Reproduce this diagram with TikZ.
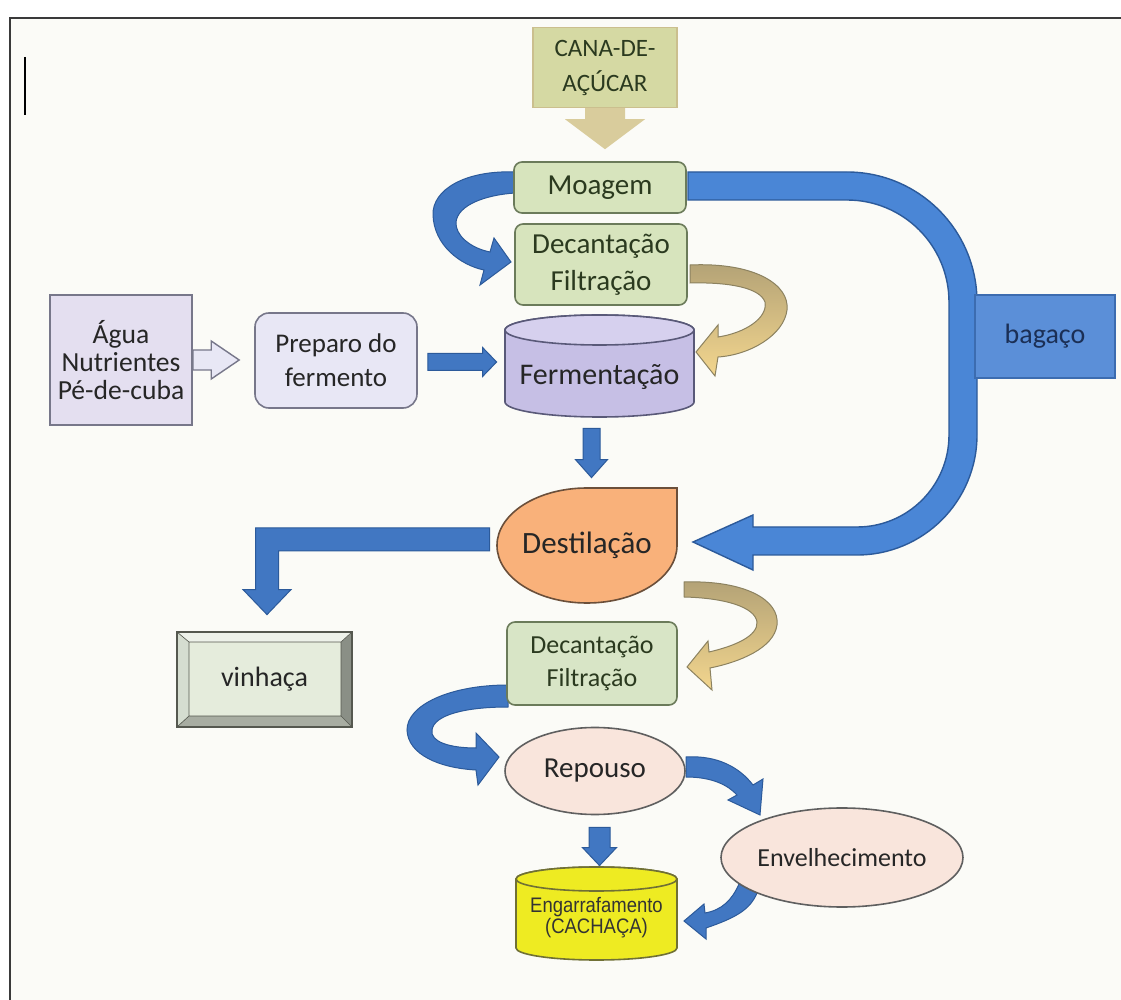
\documentclass[tikz,border=0pt]{standalone}
\usepackage{fontspec}
\setmainfont{Carlito}
\newfontfamily\narrowfont{Liberation Sans}
\usetikzlibrary{calc,shapes.geometric}
\pgfdeclarelayer{bg}
\pgfdeclarelayer{back}
\pgfsetlayers{bg,back,main}
\definecolor{pagebg}{HTML}{FBFBF7}
\definecolor{framec}{HTML}{3A3A3A}
\definecolor{gfill}{HTML}{D7E4BD}
\definecolor{gline}{HTML}{6B7B5A}
\definecolor{gtext}{HTML}{2B3A1F}
\definecolor{canafill}{HTML}{D5D9A3}
\definecolor{canaline}{HTML}{CBBF8E}
\definecolor{tanfill}{HTML}{D9CC9C}
\definecolor{aguafill}{HTML}{E4DFF0}
\definecolor{prepfill}{HTML}{E8E7F5}
\definecolor{lavline}{HTML}{77778A}
\definecolor{fermbody}{HTML}{C6BFE5}
\definecolor{fermtop}{HTML}{D6D0EE}
\definecolor{fermline}{HTML}{595978}
\definecolor{bagfill}{HTML}{5B8FD8}
\definecolor{bagline}{HTML}{3C6CB0}
\definecolor{bagtext}{HTML}{1B2F55}
\definecolor{destfill}{HTML}{F9B17A}
\definecolor{destline}{HTML}{6B4F3A}
\definecolor{vinfill}{HTML}{E5ECDC}
\definecolor{vinline}{HTML}{55584F}
\definecolor{bevtop}{HTML}{EEF2EA}
\definecolor{bevleft}{HTML}{D5DDD0}
\definecolor{bevbottom}{HTML}{A8ADA2}
\definecolor{bevright}{HTML}{8A8F86}
\definecolor{dectwofill}{HTML}{D8E5C6}
\definecolor{peach}{HTML}{F9E5DC}
\definecolor{ellline}{HTML}{5F5F5F}
\definecolor{yell}{HTML}{EEEB22}
\definecolor{yellline}{HTML}{707035}
\definecolor{bfill}{HTML}{4177C2}
\definecolor{bline}{HTML}{2C5A9A}
\definecolor{bbig}{HTML}{4A86D6}
\definecolor{tandark}{HTML}{B3A276}
\definecolor{tanlight}{HTML}{F3D68E}
\definecolor{tanline}{HTML}{8C8260}
\definecolor{txt}{HTML}{262626}

% right-pointing block arrow: style, from, to, shaft half width, head half width, head length
\newcommand{\rblock}[6]{\path[#1] let \p1=(#2), \p2=(#3) in
  (\x1,\y1+#4) -- (\x2-#6,\y1+#4) -- (\x2-#6,\y1+#5) -- (\x2,\y1)
  -- (\x2-#6,\y1-#5) -- (\x2-#6,\y1-#4) -- (\x1,\y1-#4) -- cycle;}
% downward block arrow
\newcommand{\dblock}[6]{\path[#1] let \p1=(#2), \p2=(#3) in
  (\x1-#4,\y1) -- (\x1-#4,\y2+#6) -- (\x1-#5,\y2+#6) -- (\x1,\y2)
  -- (\x1+#5,\y2+#6) -- (\x1+#4,\y2+#6) -- (\x1+#4,\y1) -- cycle;}

\begin{document}
\begin{tikzpicture}[x=0.5pt,y=-0.5pt,
  greenbox/.style={draw=gline, fill=gfill, rounded corners=4pt, line width=0.8pt,
    minimum width=86pt, minimum height=40.5pt, inner sep=0pt, align=center,
    font=\fontsize{14.5}{18.5}\selectfont, text=gtext},
  canabox/.style={draw=canaline, fill=canafill, line width=0.6pt, minimum width=72pt,
    minimum height=40pt, inner sep=0pt, align=center,
    font=\fontsize{12.5}{17.5}\selectfont, text=gtext},
  lavbox/.style={draw=lavline, line width=0.8pt, inner sep=0pt, align=center, text=txt},
  ellbox/.style={ellipse, draw=ellline, fill=peach, line width=0.8pt, inner sep=0pt, text=txt},
  plain/.style={inner sep=0pt, align=center, text=txt},
  bluearrow/.style={fill=bfill, draw=bline, line width=0.5pt},
  bigarrow/.style={fill=bbig, draw=bline, line width=0.7pt},
  tanarrow/.style={fill=tanfill, draw=none},
  hollowarrow/.style={fill=prepfill, draw=lavline, line width=0.7pt},
  ribbon/.style={top color=tandark, bottom color=tanlight, draw=tanline, line width=0.5pt},
  cylline/.style={line width=0.8pt}
]
\useasboundingbox (0,0) rectangle (1121,1000);

\begin{pgfonlayer}{bg}
  \fill[white] (0,0) rectangle (1121,1000);
  \fill[pagebg] (10,18) rectangle (1121,1000);
  \draw[line width=1pt, framec] (10,1000) -- (10,18) -- (1121,18);
  \draw[line width=1pt, black] (25,57) -- (25,115);
\end{pgfonlayer}

% ---------- shapes drawn directly ----------
% Fermentacao cylinder
\draw[cylline, draw=fermline, fill=fermbody] (505,330) -- (505,402)
  arc[start angle=180, end angle=360, x radius=47.25pt, y radius=7.5pt]
  -- (694,330) arc[start angle=0, end angle=180, x radius=47.25pt, y radius=7.5pt] -- cycle;
\draw[cylline, draw=fermline, fill=fermtop] (599.5,330) ellipse[x radius=47.25pt, y radius=7.5pt];

% Engarrafamento cylinder
\draw[cylline, draw=yellline, fill=yell] (516,879) -- (516,948)
  arc[start angle=180, end angle=360, x radius=40.25pt, y radius=6pt]
  -- (677,879) arc[start angle=0, end angle=180, x radius=40.25pt, y radius=6pt] -- cycle;
\draw[cylline, draw=yellline, fill=yell] (596.5,879) ellipse[x radius=40.25pt, y radius=6pt];

% Destilacao drop
\draw[line width=0.8pt, draw=destline, fill=destfill] (587,488) -- (677,488) -- (677,545.5)
  arc[start angle=0, end angle=-180, x radius=45pt, y radius=28.75pt]
  arc[start angle=180, end angle=90, x radius=45pt, y radius=28.75pt] -- cycle;

% vinhaca bevel box
\fill[bevright] (177,632) rectangle (352,727);
\fill[bevtop] (177,632) -- (352,632) -- (341,642) -- (189,642) -- cycle;
\fill[bevleft] (177,632) -- (189,642) -- (189,716) -- (177,727) -- cycle;
\fill[bevbottom] (177,727) -- (189,716) -- (341,716) -- (352,727) -- cycle;
\fill[vinfill] (189,642) rectangle (341,716);
\draw[vinline, line width=0.3pt] (189,642) rectangle (341,716)
  (177,632) -- (189,642) (352,632) -- (341,642) (177,727) -- (189,716) (352,727) -- (341,716);
\draw[vinline, line width=0.8pt] (177,632) rectangle (352,727);

% ---------- nodes ----------
\node[canabox] (cana) at (605,67.5) {CANA-DE-\\AÇÚCAR};
\node[greenbox, minimum height=25.5pt, font=\fontsize{14.5}{17}\selectfont] (moagem) at (600,187.5) {Moagem};
\node[greenbox] (dec1) at (601,264.5) {Decantação\\Filtração};
\node[lavbox, fill=aguafill, minimum width=71pt, minimum height=65pt,
  font=\fontsize{13.8}{14}\selectfont] (agua) at (121,360) {Água\\Nutrientes\\Pé-de-cuba};
\node[lavbox, fill=prepfill, rounded corners=7pt, minimum width=81pt, minimum height=47.5pt,
  font=\fontsize{13.5}{17}\selectfont] (preparo) at (336,360.5) {Preparo do\\fermento};
\node[inner sep=0pt, minimum width=94.5pt, minimum height=51pt] (ferm) at (599.5,366) {};
\node[plain, font=\fontsize{15}{18}\selectfont] (fermtext) at (599.5,377) {Fermentação};
\node[draw=bagline, fill=bagfill, line width=0.8pt, minimum width=70pt, minimum height=41.5pt,
  inner sep=0pt, text=bagtext, font=\fontsize{14}{17}\selectfont] (bagaco) at (1045,336.5) {bagaço};
\node[plain, minimum width=90pt, minimum height=57.5pt, font=\fontsize{15.5}{18}\selectfont] (dest) at (587,545.5) {Destilação};
\node[plain, minimum width=87.5pt, minimum height=47.5pt, font=\fontsize{14}{17}\selectfont] (vinhaca) at (264.5,679.5) {vinhaça};
\node[greenbox, fill=dectwofill, minimum width=85pt, minimum height=41.5pt,
  font=\fontsize{13}{17}\selectfont] (dec2) at (592,663.5) {Decantação\\Filtração};
\node[ellbox, minimum width=90pt, minimum height=43.5pt, font=\fontsize{14.5}{17}\selectfont] (repouso) at (595,771) {Repouso};
\node[ellbox, minimum width=121pt, minimum height=49.5pt, font=\fontsize{13}{16}\selectfont] (envelh) at (842,857.5) {Envelhecimento};
\node[inner sep=0pt, minimum width=80.5pt, minimum height=46.5pt] (eng) at (596.5,913.5) {};
\node[plain, text=black!80, font=\narrowfont\fontsize{10.5}{10.5}\selectfont] (engtext) at (596.5,918)
  {\scalebox{0.88}[1]{Engarrafamento}\\\scalebox{0.88}[1]{(CACHAÇA)}};

% ---------- connectors (block arrows) ----------
\begin{pgfonlayer}{back}
% straight ones, from node to node
\dblock{tanarrow}{[yshift=1pt]cana.south}{[yshift=6pt]moagem.north}{10pt}{20pt}{15pt}
\rblock{hollowarrow}{agua.east}{[xshift=-7.5pt]preparo.west}{5pt}{9.5pt}{14pt}
\rblock{bluearrow}{[xshift=5pt,yshift=-0.75pt]preparo.east}{[xshift=-4pt]ferm.west}{4.25pt}{7.25pt}{7pt}
\dblock{bluearrow}{[xshift=-4pt,yshift=-5.5pt]ferm.south}{[yshift=5pt]dest.north}{4.25pt}{8pt}{9pt}
\dblock{bluearrow}{[xshift=2.25pt,yshift=-6pt]repouso.south}{[yshift=0.5pt]eng.north}{5.25pt}{8.5pt}{9pt}
% elbow arrow Destilacao -> vinhaca
\path[bluearrow] let \p1=([xshift=-3.5pt,yshift=3pt]dest.west), \p2=([xshift=1.25pt,yshift=8.5pt]vinhaca.north) in
  (\x1,\y1+5.75pt) -- (\x2-5.75pt,\y1+5.75pt) -- (\x2-5.75pt,\y2+12.5pt) -- (\x2-12pt,\y2+12.5pt)
  -- (\x2,\y2) -- (\x2+12pt,\y2+12.5pt) -- (\x2+5.75pt,\y2+12.5pt) -- (\x2+5.75pt,\y1-5.75pt)
  -- (\x1,\y1-5.75pt) -- cycle;

% big U arrow Moagem -> Destilacao (bagaco)
\path[bigarrow] (688,172) -- (847,172) arc[start angle=90, end angle=0, radius=65pt]
  -- (977,435) arc[start angle=0, end angle=-90, radius=60pt]
  -- (753,555) -- (753,570) -- (693,542) -- (753,515) -- (753,527) -- (857,527)
  arc[start angle=-90, end angle=0, radius=46pt]
  -- (949,302) arc[start angle=0, end angle=90, radius=51pt] -- (688,200) -- cycle;

% curved Moagem -> Decantacao
\path[bluearrow] (515,172) .. controls (465,170) and (432,190) .. (433,215)
  .. controls (434,245) and (460,265) .. (484,270)
  -- (480,285) -- (511,262) -- (494,238) -- (490,252)
  .. controls (470,248) and (455,235) .. (456,222)
  .. controls (458,205) and (485,195) .. (515,193) -- cycle;

% curved Decantacao 2 -> Repouso
\path[bluearrow] (508,685) .. controls (450,685) and (407,705) .. (407,730)
  .. controls (408,755) and (440,768) .. (476,770)
  -- (478,785) -- (499,757) -- (476,733) -- (476,748)
  .. controls (450,748) and (430,742) .. (432,730)
  .. controls (434,715) and (465,707) .. (508,707) -- cycle;

% curved Repouso -> Envelhecimento
\path[bluearrow] (686,757) .. controls (718,755) and (740,768) .. (753,785)
  -- (763,779) -- (760,815) -- (728,800) -- (737,795)
  .. controls (728,785) and (712,777) .. (686,777) -- cycle;

% curved Envelhecimento -> Engarrafamento
\path[bluearrow] (757,893) .. controls (750,910) and (735,918) .. (706,928)
  -- (706,939) -- (684,921) -- (704,904) -- (705,913)
  .. controls (722,910) and (732,900) .. (739,884) -- cycle;

% tan ribbon Decantacao 1 -> Fermentacao
\path[ribbon] (690,265) .. controls (755,262) and (790,285) .. (787,310)
  .. controls (784,335) and (750,355) .. (718,357)
  -- (715,376) -- (696,352) -- (718,325) -- (718,337)
  .. controls (745,333) and (768,318) .. (765,302)
  .. controls (760,288) and (730,282) .. (690,283) -- cycle;

% tan ribbon Destilacao -> Decantacao 2
\path[ribbon] (684,582) .. controls (745,580) and (780,600) .. (777,625)
  .. controls (774,648) and (740,662) .. (710,668)
  -- (712,690) -- (687,667) -- (708,641) -- (709,652)
  .. controls (735,646) and (758,636) .. (757,622)
  .. controls (755,607) and (725,598) .. (684,597) -- cycle;
\end{pgfonlayer}
\end{tikzpicture}
\end{document}
